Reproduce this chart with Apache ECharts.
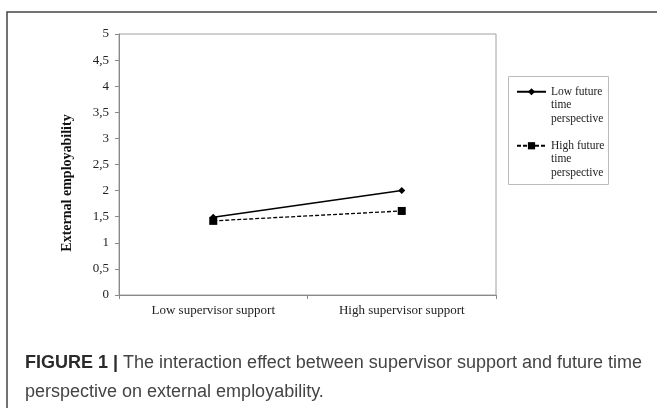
<!DOCTYPE html>
<html>
<head>
<meta charset="utf-8">
<script src="https://cdn.jsdelivr.net/npm/echarts@6/dist/echarts.min.js"></script>
<style>
    html, body { margin: 0; padding: 0; background: #fff; }
    #chart { width: 657px; height: 408px; }
</style>
</head>
<body>
<div id="chart"></div>
<script>
    // data
    var categories = ['Low supervisor support', 'High supervisor support'];
    var lowFtp = [1.49, 2.0];
    var highFtp = [1.42, 1.61];
    var seriesNames = ['Low future\ntime\nperspective', 'High future\ntime\nperspective'];
    var yTicks = { min: 0, max: 5, interval: 0.5 };

    var serif = '"Liberation Serif", "Times New Roman", serif';
    var sans = '"Liberation Sans", Arial, sans-serif';

    var chart = echarts.init(document.getElementById('chart'));

    var option = {
        backgroundColor: '#fff',
        animation: false,
        title: {
            text: '{b|FIGURE 1 |} The interaction effect between supervisor support and future time\nperspective on external employability.',
            left: 25,
            top: 349,
            padding: 0,
            textStyle: {
                fontFamily: sans,
                fontSize: 18,
                fontWeight: 'normal',
                color: '#444',
                lineHeight: 29,
                rich: {
                    b: { fontFamily: sans, fontSize: 18, fontWeight: 'bold', color: '#2a2a2a', lineHeight: 29 }
                }
            }
        },
        graphic: [
            // outer figure frame
            {
                type: 'rect',
                shape: { x: 7, y: 12, width: 720, height: 520 },
                style: { fill: null, stroke: '#444', lineWidth: 1.5 },
                silent: true
            },
            // legend box
            {
                type: 'rect',
                shape: { x: 508.5, y: 76.5, width: 100, height: 108 },
                style: { fill: null, stroke: '#bbb', lineWidth: 1 },
                silent: true
            },
            // y axis title
            {
                type: 'text',
                x: 67,
                y: 183,
                rotation: Math.PI / 2,
                style: {
                    text: 'External employability',
                    fontFamily: serif,
                    fontSize: 14,
                    fontWeight: 'bold',
                    fill: '#111',
                    align: 'center',
                    verticalAlign: 'middle'
                },
                silent: true
            }
        ],
        legend: {
            data: seriesNames,
            orient: 'vertical',
            left: 516,
            top: 58,
            padding: 0,
            itemWidth: 29,
            itemHeight: 9,
            itemGap: -13.5,
            // two blank lines on top so the icon sits on the first text line
            formatter: function (name) {
                return '\n\n' + name;
            },
            textStyle: {
                fontFamily: serif,
                fontSize: 11.5,
                color: '#222',
                lineHeight: 13.5
            }
        },
        grid: {
            left: 119,
            top: 34,
            right: 161,
            bottom: 113,
            show: true,
            borderColor: '#a0a0a0',
            borderWidth: 1
        },
        xAxis: {
            type: 'category',
            data: categories,
            axisLine: { lineStyle: { color: '#8a8a8a', width: 1 } },
            axisTick: { show: true, length: 4, lineStyle: { color: '#8a8a8a' } },
            axisLabel: { fontFamily: serif, fontSize: 13, color: '#222', margin: 9 }
        },
        yAxis: {
            type: 'value',
            min: yTicks.min,
            max: yTicks.max,
            interval: yTicks.interval,
            axisLine: { show: true, lineStyle: { color: '#8a8a8a', width: 1 } },
            axisTick: { show: true, length: 4, lineStyle: { color: '#8a8a8a' } },
            splitLine: { show: false },
            axisLabel: {
                fontFamily: serif,
                fontSize: 13,
                color: '#222',
                margin: 10,
                formatter: function (v) {
                    return String(v).replace('.', ',');
                }
            }
        },
        series: [
            {
                name: seriesNames[0],
                type: 'line',
                data: lowFtp,
                symbol: 'diamond',
                symbolSize: 7,
                lineStyle: { color: '#000', width: 1.5, type: 'solid' },
                itemStyle: { color: '#000' }
            },
            {
                name: seriesNames[1],
                type: 'line',
                data: highFtp,
                symbol: 'rect',
                symbolSize: 8,
                lineStyle: { color: '#000', width: 1.3, type: [4, 2] },
                itemStyle: { color: '#000' }
            }
        ]
    };

    chart.setOption(option);
</script>
</body>
</html>
